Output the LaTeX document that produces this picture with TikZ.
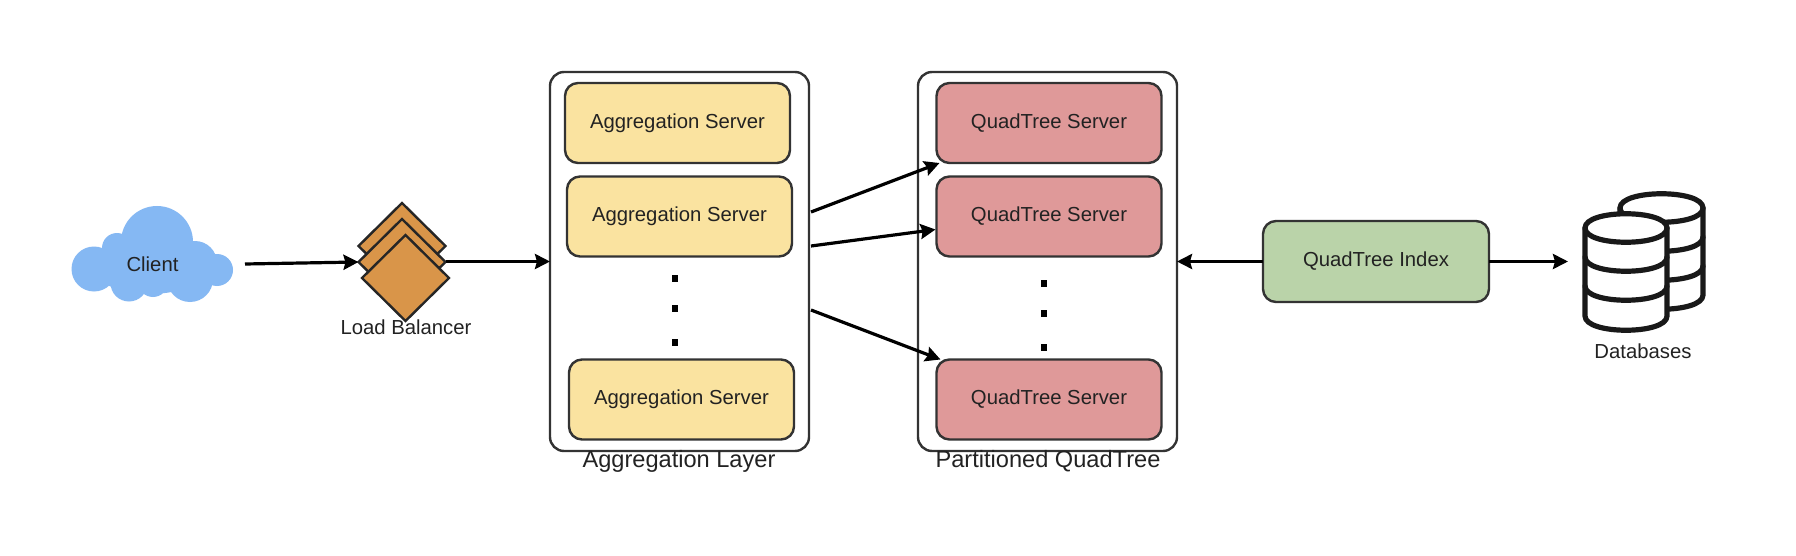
\documentclass[tikz,border=0pt]{standalone}
\usepackage{fontspec}
\setmainfont{Liberation Sans}
\usetikzlibrary{shapes.geometric,arrows.meta}
\definecolor{lineC}{HTML}{333333}
\definecolor{textC}{HTML}{222222}
\definecolor{cloudC}{HTML}{85B8F3}
\definecolor{lbC}{HTML}{D99549}
\definecolor{aggC}{HTML}{FAE3A0}
\definecolor{quadC}{HTML}{DF9999}
\definecolor{idxC}{HTML}{BAD3A9}
\tikzset{
  x=1pt,y=-1pt,
  every node/.style={inner sep=0pt,outer sep=0pt,text=textC,font=\fontsize{20.3}{24}\selectfont},
  server/.style={draw=lineC,line width=2.4pt,rounded corners=13pt,minimum width=225pt,minimum height=80pt},
  aggbox/.style={server,fill=aggC},
  quadbox/.style={server,fill=quadC},
  idxbox/.style={server,fill=idxC,minimum width=226pt,minimum height=81pt},
  layerbox/.style={draw=lineC,line width=2.4pt,rounded corners=14pt,fill=white,minimum width=259pt,minimum height=379pt},
  lbdiamond/.style={diamond,aspect=1,draw=black!85,line width=2.4pt,fill=lbC,minimum width=87pt,minimum height=86pt},
  biglabel/.style={font=\fontsize{23.6}{28}\selectfont},
  vdot/.style={fill=black,minimum width=6pt,minimum height=7pt},
  link/.style={draw=black,line width=3.2pt,-{Stealth[length=15pt,width=15pt,inset=2pt]}},
  dbline/.style={draw=black!90,line width=5.2pt,line cap=round,line join=round},
}
\begin{document}
\begin{tikzpicture}
\useasboundingbox (0,0) rectangle (1796,556);
\fill[white] (0,0) rectangle (1796,556);

% cloud
\fill[cloudC] (157,242) circle (36pt) (94,269) circle (22.5pt) (117,248) circle (15pt)
  (217,270) circle (16pt) (195,263) circle (22pt) (129,283) circle (18.5pt)
  (190,279) circle (23pt) (153,282) circle (15pt) (150,266) ellipse (58pt and 28pt);
\node[minimum width=161pt,minimum height=40pt] (client) at (152.5,264) {Client};

% load balancer
\node[lbdiamond] (lba) at (402,246) {};
\node[lbdiamond] (lbb) at (402,262) {};
\node[lbdiamond] (lbc) at (405.5,278) {};
\node (lblabel) at (406,327) {Load Balancer};

% layers
\node[layerbox] (agg) at (679.5,261.5) {};
\node[layerbox] (part) at (1047.5,261.5) {};
\node[biglabel] (agglabel) at (679,461) {Aggregation Layer};
\node[biglabel] (partlabel) at (1048,461) {Partitioned QuadTree};

\node[aggbox] (aa) at (677.5,123) {Aggregation Server};
\node[aggbox] (ab) at (679.5,216.5) {Aggregation Server};
\node[aggbox] (ac) at (681.5,399.5) {Aggregation Server};
\node[vdot] (ad1) at (675,278) {};
\node[vdot] (ad2) at (675,308) {};
\node[vdot] (ad3) at (675,342) {};

\node[quadbox] (qa) at (1049,123) {QuadTree Server};
\node[quadbox] (qb) at (1049,216.5) {QuadTree Server};
\node[quadbox] (qc) at (1049,399.5) {QuadTree Server};
\node[vdot] (qd1) at (1044,283) {};
\node[vdot] (qd2) at (1044,313) {};
\node[vdot] (qd3) at (1044,347) {};

\node[idxbox] (idx) at (1376,261.5) {QuadTree Index};

% databases
\node[minimum width=152pt,minimum height=150pt] (db) at (1644,261.5) {};
\path[dbline,fill=white] (1620,208) -- (1620,295) .. controls (1620,314) and (1703,314) .. (1703,295) -- (1703,208) .. controls (1703,189) and (1620,189) .. (1620,208) -- cycle;
\draw[dbline] (1620,208) .. controls (1620,227) and (1703,227) .. (1703,208);
\draw[dbline] (1620,237) .. controls (1620,256) and (1703,256) .. (1703,237);
\draw[dbline] (1620,266) .. controls (1620,285) and (1703,285) .. (1703,266);
\path[dbline,fill=white] (1585,228) -- (1585,316) .. controls (1585,335) and (1667,335) .. (1667,316) -- (1667,228) .. controls (1667,209) and (1585,209) .. (1585,228) -- cycle;
\draw[dbline] (1585,228) .. controls (1585,247) and (1667,247) .. (1667,228);
\draw[dbline] (1585,257) .. controls (1585,276) and (1667,276) .. (1667,257);
\draw[dbline] (1585,286) .. controls (1585,305) and (1667,305) .. (1667,286);
\node (dblabel) at (1643,351) {Databases};

% connectors
\draw[link] ([xshift=12pt]client.east) -- (lbb.west);
\draw[link] (lbb.east |- agg.east) -- (agg.west);
\draw[link] ([yshift=49.5pt,xshift=2pt]agg.east) -- ([xshift=3pt]qa.south west);
\draw[link] ([yshift=15.5pt,xshift=2pt]agg.east) -- ([yshift=-13pt,xshift=-1pt]qb.west);
\draw[link] ([yshift=-48.5pt,xshift=2pt]agg.east) -- ([xshift=4pt]qc.north west);
\draw[link] (idx.west) -- (part.east);
\draw[link] (idx.east) -- (db.west);
\end{tikzpicture}
\end{document}
